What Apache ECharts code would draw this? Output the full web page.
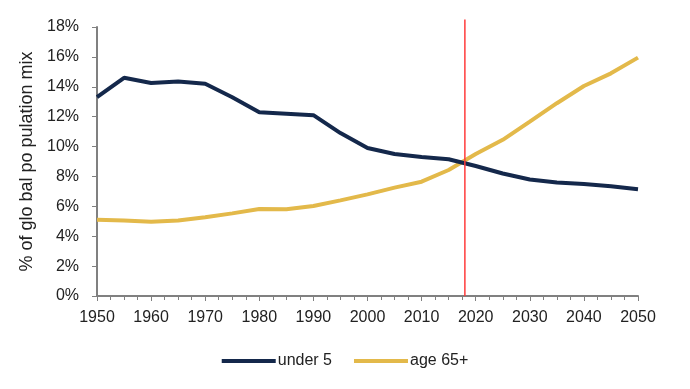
<!DOCTYPE html>
<html><head><meta charset="utf-8">
<script src="https://cdn.jsdelivr.net/npm/echarts@6/dist/echarts.min.js"></script>
<style>html,body{margin:0;padding:0;background:#fff}#c{width:690px;height:389px}</style>
</head><body><div id="c"></div>
<script>
const years = [1950,1955,1960,1965,1970,1975,1980,1985,1990,1995,2000,2005,2010,2015,2020,2025,2030,2035,2040,2045,2050];
const under5 = [13.3,14.6,14.25,14.35,14.2,13.3,12.3,12.2,12.1,10.9,9.9,9.5,9.3,9.15,8.7,8.2,7.8,7.6,7.5,7.35,7.15];
const age65 = [5.1,5.05,4.97,5.05,5.27,5.53,5.82,5.8,6.02,6.4,6.8,7.25,7.65,8.43,9.5,10.45,11.67,12.9,14.05,14.9,15.95];
const markYear = 2018;
const markRange = [0, 18.5];
const yTicks = [0,2,4,6,8,10,12,14,16,18];
const chart = echarts.init(document.getElementById('c'));
const font = 'Liberation Sans, Arial, sans-serif';
chart.setOption({
  animation:false,
  grid:{left:97,right:52,top:27,bottom:93},
  legend:{top:348,left:'center',itemWidth:54,itemHeight:4,itemGap:22,
    icon:'rect',textStyle:{fontFamily:font,fontSize:16,color:'#222',padding:[0,0,0,-3]},
    data:['under 5','age 65+']},
  xAxis:{type:'value',min:1950,max:2050,interval:10,
    axisLine:{lineStyle:{color:'#808080',width:2}},
    axisTick:{length:5,lineStyle:{color:'#808080'}},
    minorTick:{show:true,splitNumber:4,length:4,lineStyle:{color:'#808080'}},
    splitLine:{show:false},
    axisLabel:{fontFamily:font,fontSize:16,color:'#222',margin:14,formatter:v=>String(v)}},
  yAxis:{type:'value',min:yTicks[0],max:yTicks[yTicks.length-1],interval:2,
    name:'% of glo bal po pulation mix',nameLocation:'middle',nameGap:58,
    nameTextStyle:{fontFamily:font,fontSize:18,color:'#222'},
    axisLine:{show:true,lineStyle:{color:'#808080',width:2}},
    axisTick:{show:true,length:5,lineStyle:{color:'#808080'}},
    splitLine:{show:false},
    axisLabel:{fontFamily:font,fontSize:16,color:'#222',margin:18,formatter:v=>v+'%'}},
  series:[
    {name:'under 5',type:'line',data:years.map((y,i)=>[y,under5[i]]),symbol:'none',
      lineStyle:{color:'#14284b',width:4},itemStyle:{color:'#14284b'},z:3},
    {name:'age 65+',type:'line',data:years.map((y,i)=>[y,age65[i]]),symbol:'none',
      lineStyle:{color:'#e3b94a',width:4},itemStyle:{color:'#e3b94a'},z:2},
    {name:'marker',type:'line',data:markRange.map(v=>[markYear,v]),symbol:'none',clip:false,
      silent:true,lineStyle:{color:'#ff3b3b',width:1.5},z:4}
  ]
});
</script></body></html>
